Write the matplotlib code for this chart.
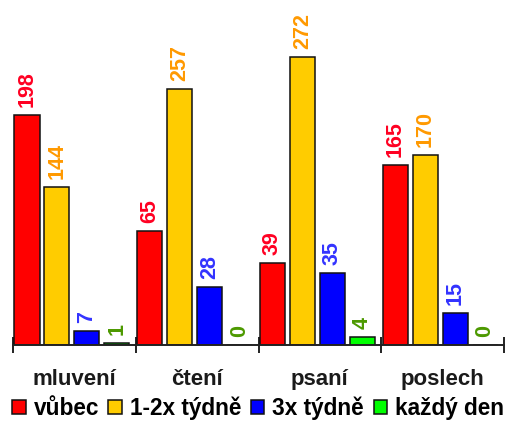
#!/usr/bin/env python3

import matplotlib.pyplot as plt
import numpy as np
from matplotlib.patches import Patch

plt.rcParams['font.family'] = ['Liberation Sans', 'DejaVu Sans']
plt.rcParams['font.weight'] = 'bold'

categories = ['mluvení', 'čtení', 'psaní', 'poslech']
series = ['vůbec', '1-2x týdně', '3x týdně', 'každý den']

# numbers printed above the bars
counts = [
    [198, 65, 39, 165],
    [144, 257, 272, 170],
    [7, 28, 35, 15],
    [1, 0, 4, 0],
]
# bar heights as drawn in the picture (they do not follow the printed numbers)
bar_heights = [
    [230, 114, 82, 180],
    [158, 256, 288, 190],
    [14, 58, 72, 32],
    [2, 0, 8, 0],
]

bar_colors = ['#ff0000', '#ffcc00', '#0000ff', '#00ff00']
label_colors = ['#ff0022', '#ff9900', '#3333ff', '#4c9900']

W, H = 508, 421
fig = plt.figure(figsize=(W / 100, H / 100), dpi=100)
ax = fig.add_axes([13 / W, (H - 345) / H, (504 - 13) / W, 345 / H])

x = np.arange(len(categories))
step = 0.244
for j, name in enumerate(series):
    xs = x + (j - 1.5) * step - 0.02
    bars = ax.bar(xs, bar_heights[j], width=0.204, color=bar_colors[j],
                  edgecolor='#111111', linewidth=1.1, zorder=2)
    for rect, c in zip(bars, counts[j]):
        ax.annotate(str(c), (rect.get_x() + rect.get_width() / 2, rect.get_height()),
                    xytext=(0, 5.5), textcoords='offset points',
                    rotation=90, ha='center', va='bottom',
                    fontsize=15.5, fontweight='bold', color=label_colors[j])

ax.set_xlim(-0.5, 3.5)
ax.set_ylim(0, 345)
for s in ['top', 'right', 'left']:
    ax.spines[s].set_visible(False)
ax.spines['bottom'].set_linewidth(1.4)
ax.spines['bottom'].set_color('#222222')
ax.set_yticks([])

ax.set_xticks(x)
ax.set_xticklabels(categories, fontsize=16, fontweight='bold', color='#1a1a1a')
ax.tick_params(axis='x', which='major', length=0, pad=17.5)
ax.set_xticks(np.arange(-0.5, 4, 1), minor=True)
ax.tick_params(axis='x', which='minor', direction='inout', length=11,
               width=1.4, color='#222222')

handles = [Patch(facecolor=c, edgecolor='#111111', linewidth=1.1) for c in bar_colors]
fig.legend(handles, series, loc='center', bbox_to_anchor=(0.5 + 4 / W, 1 - 408 / H),
           ncol=4, frameon=False, fontsize=16.3, handlelength=0.6,
           handleheight=0.6, handletextpad=0.35, columnspacing=0.42,
           borderpad=0, borderaxespad=0)

fig.savefig('out.png', dpi=100)
